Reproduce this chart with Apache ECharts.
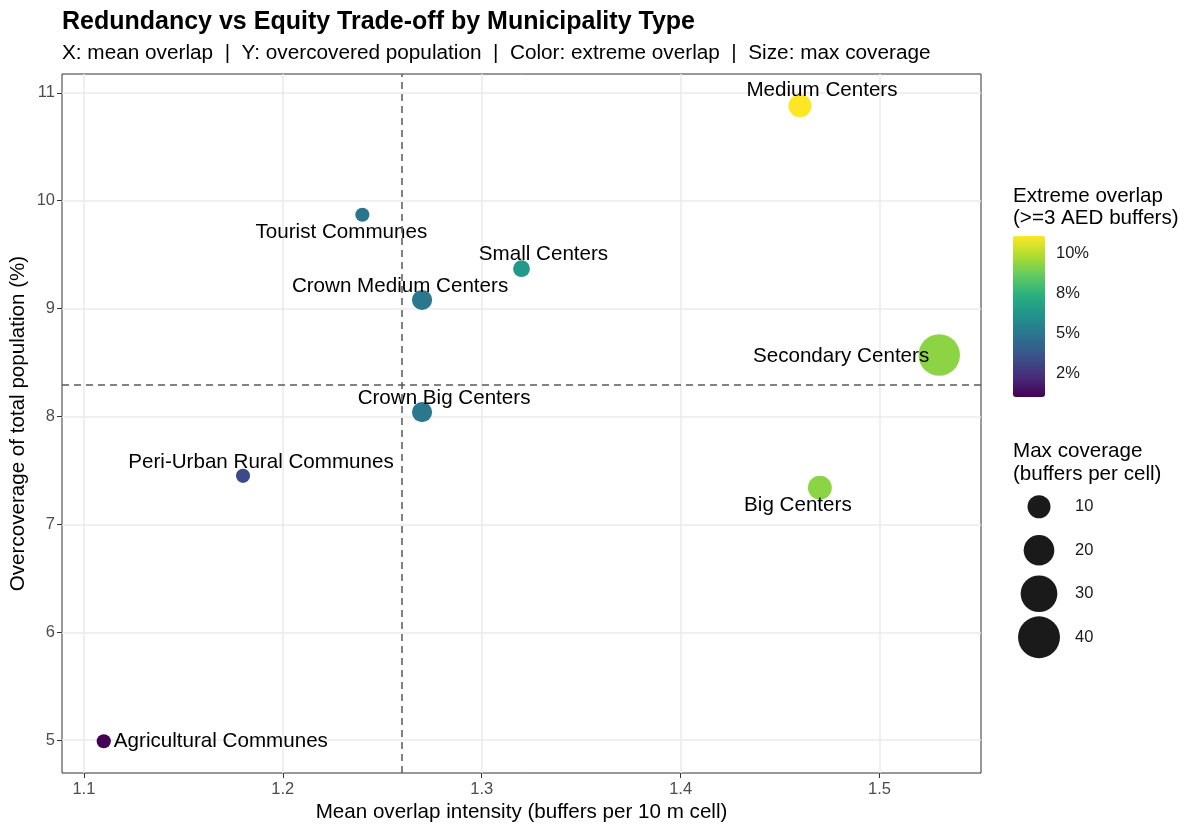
<!DOCTYPE html>
<html><head><meta charset="utf-8">
<script src="https://cdn.jsdelivr.net/npm/echarts@6/dist/echarts.min.js"></script>
<style>html,body{margin:0;padding:0;background:#fff}#c{width:1200px;height:833px}</style>
</head><body><div id="c"></div>
<script>
// ---- data ----
const names = ['Agricultural Communes','Peri-Urban Rural Communes','Tourist Communes','Crown Medium Centers','Crown Big Centers','Small Centers','Medium Centers','Big Centers','Secondary Centers'];
const meanOverlap   = [1.11, 1.18, 1.24, 1.27, 1.27, 1.32, 1.46, 1.47, 1.53];
const overcoverage  = [4.99, 7.45, 9.87, 9.08, 8.04, 9.37, 10.88, 7.34, 8.57];
const extremeOverlap= [1.06, 3.3, 4.9, 5.0, 5.0, 6.4, 11.06, 9.3, 9.3];
const maxCoverage   = [2, 2, 2, 7, 7, 4, 10, 11, 39];
const xTicks = [1.1, 1.2, 1.3, 1.4, 1.5];
const yTicks = [5, 6, 7, 8, 9, 10, 11];
const colorBreaks = [2.5, 5, 7.5, 10];
const colorBreakLabels = ['2%', '5%', '8%', '10%'];
const sizeBreaks = [10, 20, 30, 40];
const refX = 1.26, refY = 8.29;

// ---- styles ----
const FONT = '"Liberation Sans", Arial, Helvetica, sans-serif';
const BASE = 20.6, SMALL = 16.5;
const viridis = ['#440154','#472D7B','#3B528B','#2C728E','#21918C','#28AE80','#5EC962','#ADDC30','#FDE725'];
const sizeFn = v => Math.sqrt(41 * v + 119);
const labelPlacement = {
  'Agricultural Communes': {position: 'right', distance: 3},
  'Peri-Urban Rural Communes': {position: 'inside', offset: [18, -14]},
  'Tourist Communes': {position: 'inside', offset: [-21, 18]},
  'Crown Medium Centers': {position: 'inside', offset: [-22, -14]},
  'Crown Big Centers': {position: 'inside', offset: [22, -14]},
  'Small Centers': {position: 'inside', offset: [22, -14]},
  'Medium Centers': {position: 'inside', offset: [22, -15]},
  'Big Centers': {position: 'inside', offset: [-22, 18]},
  'Secondary Centers': {position: 'inside', align: 'right', offset: [-10, 1]}
};

const ext = (arr) => { const mn = Math.min(...arr), mx = Math.max(...arr), r = mx - mn; return [mn - 0.05 * r, mx + 0.05 * r]; };
const xExt = ext(meanOverlap), yExt = ext(overcoverage);
const cMin = Math.min(...extremeOverlap), cMax = Math.max(...extremeOverlap);

const pointData = names.map((n, i) => ({
  name: n,
  value: [meanOverlap[i], overcoverage[i], extremeOverlap[i], maxCoverage[i]],
  label: Object.assign({show: true, formatter: '{b}', color: '#000', fontSize: BASE, fontFamily: FONT}, labelPlacement[n])
}));

const tickLabel = {color: '#4D4D4D', fontSize: SMALL, fontFamily: FONT};
const txt = (size, weight, lh) => ({fontSize: size, fontWeight: weight, color: '#000', fontFamily: FONT, lineHeight: lh});

const chart = echarts.init(document.getElementById('c'), null, {renderer: 'canvas'});
chart.setOption({
  animation: false,
  backgroundColor: '#fff',
  title: [
    {text: 'Redundancy vs Equity Trade-off by Municipality Type', left: 62, top: 7, padding: 0,
     textStyle: txt(25, 'bold', 30)},
    {text: 'X: mean overlap  |  Y: overcovered population  |  Color: extreme overlap  |  Size: max coverage', left: 62, top: 41, padding: 0,
     textStyle: txt(20.75, 'normal', 24)},
    {text: 'Extreme overlap\n(>=3 AED buffers)', left: 1013, top: 185, padding: 0,
     textStyle: txt(BASE, 'normal', 22.5)},
    {text: 'Max coverage\n(buffers per cell)', left: 1013, top: 440, padding: 0,
     textStyle: txt(BASE, 'normal', 23)}
  ],
  grid: [
    {left: 62, top: 74, width: 919, height: 699, show: true, borderColor: '#333', borderWidth: 1, backgroundColor: 'transparent', containLabel: false, outerBoundsMode: 'none'},
    {left: 1013, top: 236, width: 32, height: 161, containLabel: false, outerBoundsMode: 'none'},
    {left: 1018, top: 485, width: 42, height: 174, containLabel: false, outerBoundsMode: 'none'}
  ],
  visualMap: [{
    type: 'continuous', seriesIndex: 0, dimension: 2, min: cMin, max: cMax,
    inRange: {color: viridis}, calculable: false, show: true, text: null,
    left: 1013, top: 236, itemWidth: 32, itemHeight: 161, padding: 0, hoverLink: false
  }],
  xAxis: [
    {gridIndex: 0, type: 'value', min: xExt[0], max: xExt[1],
     name: 'Mean overlap intensity (buffers per 10 m cell)', nameLocation: 'middle', nameGap: 29, nameMoveOverlap: false,
     nameTextStyle: {fontSize: BASE, color: '#000', fontFamily: FONT},
     axisLine: {show: false},
     axisTick: {show: true, length: 5, customValues: xTicks, lineStyle: {color: '#333'}},
     axisLabel: Object.assign({customValues: xTicks, margin: 8}, tickLabel),
     splitLine: {show: true, lineStyle: {color: '#EBEBEB', width: 1.6}}},
    {gridIndex: 1, type: 'value', min: 0, max: 1, show: false},
    {gridIndex: 2, type: 'value', min: 0, max: 1, show: false}
  ],
  yAxis: [
    {gridIndex: 0, type: 'value', min: yExt[0], max: yExt[1],
     name: 'Overcoverage of total population (%)', nameLocation: 'middle', nameGap: 33, nameMoveOverlap: false,
     nameTextStyle: {fontSize: BASE, color: '#000', fontFamily: FONT},
     axisLine: {show: false},
     axisTick: {show: true, length: 5, customValues: yTicks, lineStyle: {color: '#333'}},
     axisLabel: Object.assign({customValues: yTicks, margin: 7}, tickLabel),
     splitLine: {show: true, lineStyle: {color: '#EBEBEB', width: 1.6}}},
    {gridIndex: 1, type: 'value', position: 'left', min: cMin, max: cMax,
     axisLine: {show: false}, splitLine: {show: false}, axisLabel: {show: false},
     axisTick: {show: true, inside: true, length: 6, customValues: colorBreaks, lineStyle: {color: '#fff', width: 1}}},
    {gridIndex: 1, type: 'value', position: 'right', min: cMin, max: cMax,
     axisLine: {show: false}, splitLine: {show: false},
     axisTick: {show: true, inside: true, length: 6, customValues: colorBreaks, lineStyle: {color: '#fff', width: 1}},
     axisLabel: {customValues: colorBreaks, margin: 11, color: '#1a1a1a', fontSize: SMALL, fontFamily: FONT,
       formatter: v => colorBreakLabels[colorBreaks.findIndex(b => Math.abs(b - v) < 1e-9)] || ''}},
    {gridIndex: 2, type: 'category', data: sizeBreaks.map(String), inverse: true, position: 'right',
     axisLine: {show: false}, axisTick: {show: false}, splitLine: {show: false},
     axisLabel: {margin: 15, color: '#1a1a1a', fontSize: SMALL, fontFamily: FONT}}
  ],
  series: [
    {type: 'scatter', xAxisIndex: 0, yAxisIndex: 0, z: 3, data: pointData,
     symbolSize: v => sizeFn(v[3]), itemStyle: {opacity: 1}},
    {type: 'scatter', xAxisIndex: 0, yAxisIndex: 0, z: 2, data: [], silent: true,
     markLine: {silent: true, symbol: ['none', 'none'], label: {show: false},
       lineStyle: {type: [7, 5], color: '#595959', width: 1.5},
       data: [{xAxis: refX}, {yAxis: refY}]}},
    {type: 'scatter', xAxisIndex: 1, yAxisIndex: 1, data: []},
    {type: 'scatter', xAxisIndex: 2, yAxisIndex: 3, silent: true,
     data: sizeBreaks.map(v => [0.5, String(v), v]),
     symbolSize: v => sizeFn(v[2]), itemStyle: {color: '#1A1A1A', opacity: 1}}
  ]
});
</script></body></html>
